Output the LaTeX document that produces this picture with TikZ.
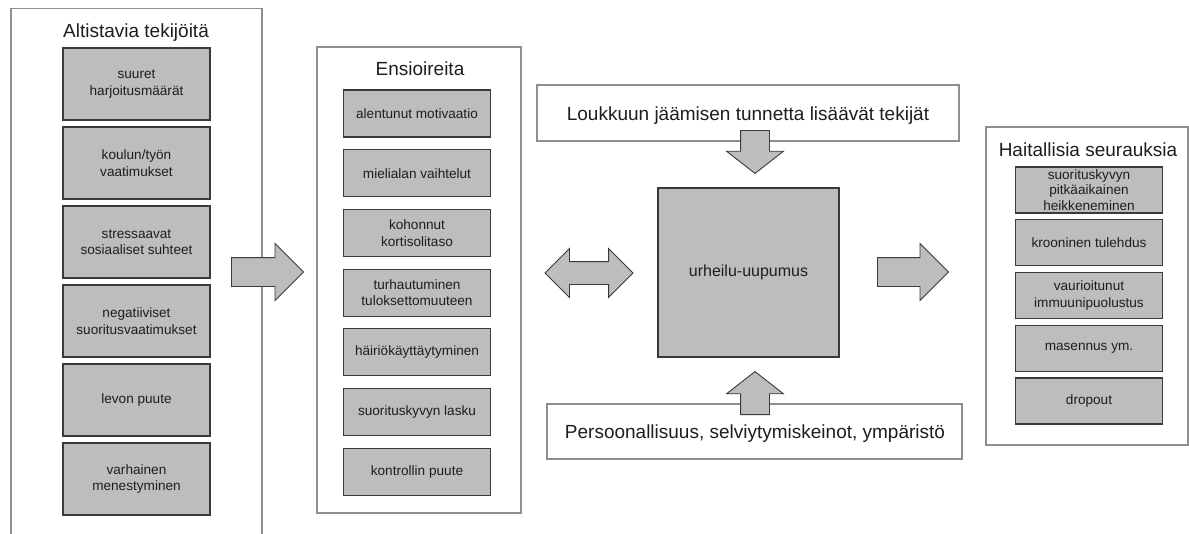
\documentclass[tikz,border=0pt]{standalone}
\usepackage{fontspec}
\setmainfont{Liberation Sans}
\usetikzlibrary{shapes.arrows, positioning}
\definecolor{boxgray}{HTML}{BDBDBD}
\definecolor{framegray}{HTML}{8E8E8E}
\definecolor{edgegray}{HTML}{3A3A3A}
\definecolor{inkgray}{HTML}{1E1E1E}

\begin{document}
\begin{tikzpicture}[
			x=1pt, y=-1pt,
			panel/.style={rectangle, draw=framegray, line width=1.2pt, fill=white, inner sep=0pt},
			heading/.style={anchor=base, inner sep=0pt, text=inkgray, font=\fontsize{19}{22}\selectfont},
			factor/.style={rectangle, draw=edgegray, line width=1.2pt, fill=boxgray, minimum width=147pt, inner sep=0pt, align=center, text=inkgray, font=\fontsize{13.6}{16.5}\selectfont},
			core/.style={rectangle, draw=edgegray, line width=1.2pt, fill=boxgray, minimum width=181pt, minimum height=169pt, inner sep=0pt, text=inkgray, font=\fontsize{16}{19}\selectfont},
			fatarrow/.style={single arrow, draw=edgegray, line width=0.9pt, fill=boxgray, inner sep=14pt, single arrow head extend=14pt, single arrow head indent=0pt, anchor=tail},
			twoway/.style={double arrow, draw=edgegray, line width=0.9pt, fill=boxgray, inner sep=11pt, double arrow head extend=13pt, double arrow head indent=0pt}
			]
			
			\clip (0,0) rectangle (1189,533);
			\fill[white] (0,0) rectangle (1189,533);
			
			% altistavat tekijat
			\node[panel, minimum width=251pt, minimum height=551pt] (altis) at (136.5,284) {};
			\node[heading] (altistitle) at (136,37) {Altistavia tekijöitä};
			\node[factor, minimum height=72pt] (a1) at (136.5,84) {suuret\\harjoitusmäärät};
			\node[factor, minimum height=72pt] (a2) at (136.5,163) {koulun/työn\\vaatimukset};
			\node[factor, minimum height=72pt] (a3) at (136.5,242) {stressaavat\\sosiaaliset suhteet};
			\node[factor, minimum height=72pt] (a4) at (136.5,321) {negatiiviset\\suoritusvaatimukset};
			\node[factor, minimum height=72pt] (a5) at (136.5,400) {levon puute};
			\node[factor, minimum height=72pt] (a6) at (136.5,479) {varhainen\\menestyminen};
			
			% ensioireet
			\node[panel, minimum width=204pt, minimum height=466pt] (ensi) at (419,280) {};
			\node[heading] (ensititle) at (420,75) {Ensioireita};
			\node[factor, minimum height=47pt] (e1) at (417,113.5) {alentunut motivaatio};
			\node[factor, minimum height=47pt] (e2) at (417,173.2) {mielialan vaihtelut};
			\node[factor, minimum height=47pt] (e3) at (417,232.9) {kohonnut\\kortisolitaso};
			\node[factor, minimum height=47pt] (e4) at (417,292.6) {turhautuminen\\tuloksettomuuteen};
			\node[factor, minimum height=47pt] (e5) at (417,352.3) {häiriökäyttäytyminen};
			\node[factor, minimum height=47pt] (e6) at (417,412) {suorituskyvyn lasku};
			\node[factor, minimum height=47pt] (e7) at (417,471.7) {kontrollin puute};
			
			% keskiosa
			\node[panel, minimum width=422pt, minimum height=56pt] (loukku) at (748,113) {};
			\node[heading] (loukkutext) at (748,120) {Loukkuun jäämisen tunnetta lisäävät tekijät};
			\node[panel, minimum width=415pt, minimum height=55pt] (persoona) at (754.5,431.5) {};
			\node[heading] (persoonatext) at (755,438) {Persoonallisuus, selviytymiskeinot, ympäristö};
			\node[core] (uupumus) at (748.5,272.5) {urheilu-uupumus};
			
			% haitalliset seuraukset
			\node[panel, minimum width=202pt, minimum height=318pt] (haitta) at (1087,286) {};
			\node[heading] (haittatitle) at (1088,156) {Haitallisia seurauksia};
			\node[factor, minimum height=46pt, font=\fontsize{13.6}{15.8}\selectfont] (h1) at (1089,190) {suorituskyvyn\\pitkäaikainen\\heikkeneminen};
			\node[factor, minimum height=46pt] (h2) at (1089,242.8) {krooninen tulehdus};
			\node[factor, minimum height=46pt] (h3) at (1089,295.5) {vaurioitunut\\immuunipuolustus};
			\node[factor, minimum height=46pt] (h4) at (1089,348.3) {masennus ym.};
			\node[factor, minimum height=46pt] (h5) at (1089,401) {dropout};
			
			% nuolet
			\node[fatarrow, minimum height=72pt] (toensi) at (231,272) {};
			\node[twoway, minimum height=88pt] (ensiuupumus) at (589,273) {};
			\node[fatarrow, minimum height=71pt] (tohaitta) at (877,272) {};
			\node[fatarrow, minimum height=43pt, shape border rotate=270, single arrow tip angle=104] (fromloukku) at (755,130) {};
			\node[fatarrow, minimum height=43pt, shape border rotate=90, single arrow tip angle=104] (frompersoona) at (755,415) {};
		\end{tikzpicture}
\end{document}
